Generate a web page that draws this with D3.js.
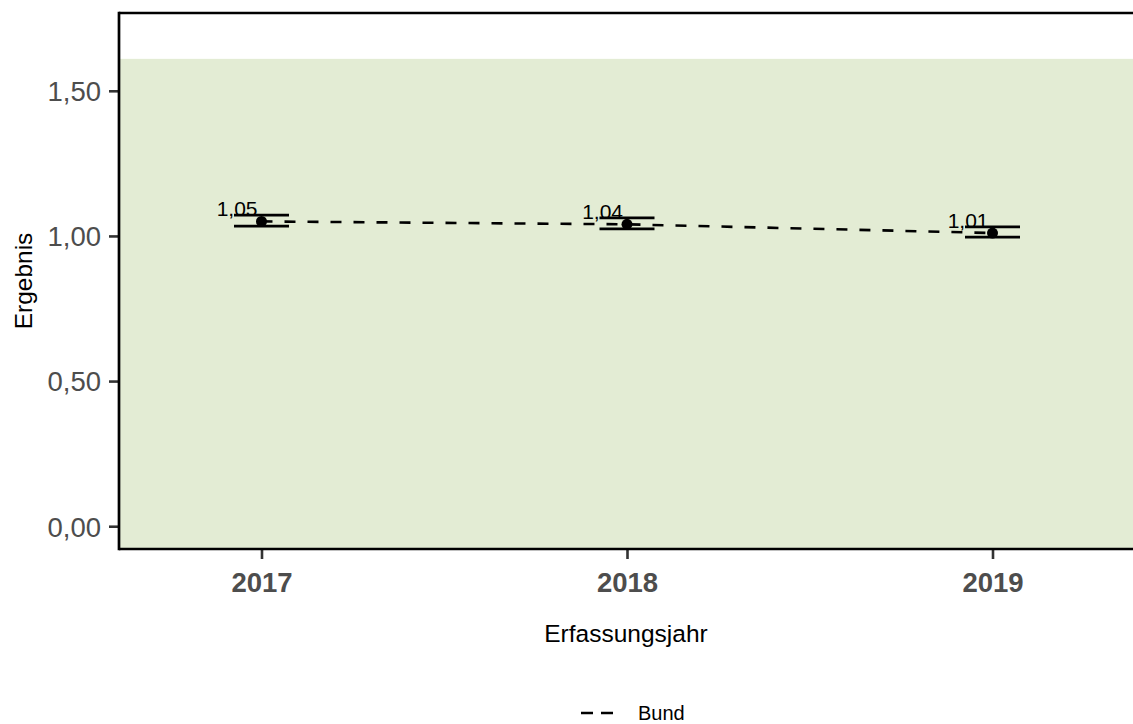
<!DOCTYPE html>
<html>
<head>
<meta charset="utf-8">
<script src="https://cdn.jsdelivr.net/npm/d3@7"></script>
<style>
  html, body { margin: 0; padding: 0; background: #ffffff; }
  svg { display: block; font-family: "Liberation Sans", Arial, Helvetica, sans-serif; }
</style>
</head>
<body>
<svg id="chart" width="1133" height="724"></svg>
<script>
// Jahresergebnisse (Bund) mit Vertrauensbereich
const years = ["2017", "2018", "2019"];
const values = [1.05, 1.04, 1.01];
const lowerCI = [1.034, 1.024, 0.996];
const upperCI = [1.072, 1.062, 1.031];
const valueLabels = ["1,05", "1,04", "1,01"];
const yTicks = [0, 0.5, 1.0, 1.5];
const yTickLabels = ["0,00", "0,50", "1,00", "1,50"];
const referenceRange = [0, 1.61];   // grün hinterlegter Referenzbereich
const seriesName = "Bund";

const svg = d3.select("#chart");
const W = 1133, H = 724;
const margin = { left: 119, right: 0, top: 13, bottom: 175 };
const plotW = W - margin.left - margin.right;
const plotH = H - margin.top - margin.bottom;

const x = d3.scalePoint()
  .domain(years)
  .range([142.5, 142.5 + 731])
  .padding(0);
const y = d3.scaleLinear()
  .domain([-0.0785, 1.768])
  .range([plotH, 0]);

const g = svg.append("g").attr("transform", `translate(${margin.left},${margin.top})`);

// Referenzbereich (reicht bis an die untere Achse)
g.append("rect")
  .attr("x", 0)
  .attr("width", plotW)
  .attr("y", y(referenceRange[1]))
  .attr("height", plotH - y(referenceRange[1]))
  .attr("fill", "#e3ecd4");

// Verbindungslinie
const line = d3.line()
  .x((d, i) => x(years[i]))
  .y(d => y(d));
g.append("path")
  .datum(values)
  .attr("d", line)
  .attr("fill", "none")
  .attr("stroke", "#000")
  .attr("stroke-width", 2.6)
  .attr("stroke-dasharray", "11,12");

// Vertrauensbereiche (Fehlerbalken ohne vertikale Linie)
const capHalf = 27.5;
years.forEach((yr, i) => {
  [lowerCI[i], upperCI[i]].forEach(v => {
    g.append("line")
      .attr("x1", x(yr) - capHalf).attr("x2", x(yr) + capHalf)
      .attr("y1", y(v)).attr("y2", y(v))
      .attr("stroke", "#000").attr("stroke-width", 2.7);
  });
});

// Punkte
g.selectAll("circle.pt")
  .data(values)
  .join("circle")
  .attr("class", "pt")
  .attr("cx", (d, i) => x(years[i]))
  .attr("cy", d => y(d))
  .attr("r", 5.5)
  .attr("fill", "#000");

// Wertbeschriftungen
g.selectAll("text.val")
  .data(values)
  .join("text")
  .attr("class", "val")
  .attr("x", (d, i) => x(years[i]) - 4)
  .attr("y", d => y(d) - 5)
  .attr("text-anchor", "end")
  .attr("font-size", 21)
  .attr("fill", "#000")
  .text((d, i) => valueLabels[i]);

// Y-Achse
const yAxis = d3.axisLeft(y)
  .tickValues(yTicks)
  .tickFormat((d, i) => yTickLabels[i])
  .tickSize(10)
  .tickSizeOuter(0)
  .tickPadding(8);
const yg = g.append("g").call(yAxis);
yg.select(".domain").remove();
yg.selectAll(".tick line").attr("stroke", "#333").attr("stroke-width", 2.6);
yg.selectAll(".tick text").attr("fill", "#4d4d4d").attr("font-size", 27.5).attr("font-family", "Liberation Sans, Arial, sans-serif").attr("dy", "0.36em");

// X-Achse
const xAxis = d3.axisBottom(x)
  .tickSize(10)
  .tickSizeOuter(0)
  .tickPadding(13);
const xg = g.append("g").attr("transform", `translate(0,${plotH})`).call(xAxis);
xg.select(".domain").remove();
xg.selectAll(".tick line").attr("stroke", "#333").attr("stroke-width", 2.6);
xg.selectAll(".tick text").attr("fill", "#4d4d4d").attr("font-size", 27.5).attr("font-weight", "bold").attr("font-family", "Liberation Sans, Arial, sans-serif");

// Achsenlinien: links, oben, unten
g.append("line").attr("x1", 0).attr("x2", 0).attr("y1", -1.3).attr("y2", plotH + 1.3)
  .attr("stroke", "#000").attr("stroke-width", 2.7);
g.append("line").attr("x1", 0).attr("x2", plotW).attr("y1", 0).attr("y2", 0)
  .attr("stroke", "#000").attr("stroke-width", 2.7);
g.append("line").attr("x1", 0).attr("x2", plotW).attr("y1", plotH).attr("y2", plotH)
  .attr("stroke", "#000").attr("stroke-width", 2.7);

// Achsentitel
svg.append("text")
  .attr("x", margin.left + plotW / 2)
  .attr("y", 642)
  .attr("text-anchor", "middle")
  .attr("font-size", 24.5)
  .attr("fill", "#000")
  .text("Erfassungsjahr");
svg.append("text")
  .attr("transform", `translate(32,${margin.top + plotH / 2}) rotate(-90)`)
  .attr("text-anchor", "middle")
  .attr("font-size", 24.5)
  .attr("fill", "#000")
  .text("Ergebnis");

// Legende
const lg = svg.append("g").attr("transform", "translate(581,713)");
lg.append("line").attr("x1", 0).attr("x2", 33).attr("y1", 0).attr("y2", 0)
  .attr("stroke", "#000").attr("stroke-width", 2.6).attr("stroke-dasharray", "12,8");
lg.append("text").attr("x", 57).attr("y", 6.5)
  .attr("font-size", 20).attr("fill", "#000").text(seriesName);
</script>
</body>
</html>
